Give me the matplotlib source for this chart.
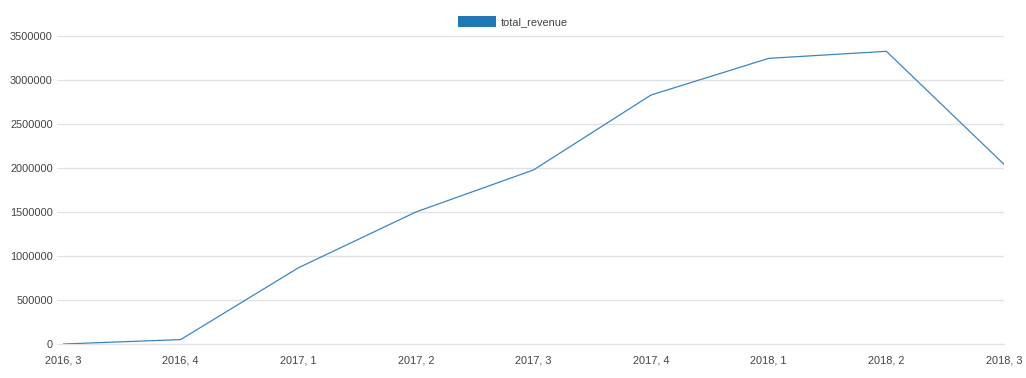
import matplotlib.pyplot as plt
from matplotlib.patches import Patch

# Data
quarters = ['2016, 3', '2016, 4', '2017, 1', '2017, 2', '2017, 3',
            '2017, 4', '2018, 1', '2018, 2', '2018, 3']
total_revenue = [0, 50000, 865000, 1500000, 1978000,
                 2830000, 3246000, 3326000, 2042000]
y_ticks = [0, 500000, 1000000, 1500000, 2000000, 2500000, 3000000, 3500000]

plt.rcParams['font.family'] = ['Liberation Sans', 'DejaVu Sans']
grid_color = '#e2e2e6'
text_color = '#444444'
fs = 7.9

fig = plt.figure(figsize=(10.26, 3.78), dpi=100)
ax = fig.add_axes([63 / 1026, 34 / 378, (1004 - 63) / 1026, (344 - 36) / 378])

x = range(len(quarters))
ax.plot(x, total_revenue, color='#3a87c0', linewidth=0.9)

ax.set_xlim(0, len(quarters) - 1)
ax.set_ylim(0, 3500000)
ax.set_xticks(list(x))
ax.set_xticklabels(quarters)
ax.set_yticks(y_ticks)
ax.set_yticklabels([str(v) for v in y_ticks])

ax.grid(axis='y', color=grid_color, linewidth=1)
ax.set_axisbelow(True)
for side in ['top', 'right', 'left']:
    ax.spines[side].set_visible(False)
ax.spines['bottom'].set_color(grid_color)
ax.tick_params(axis='y', length=4.3, color=grid_color, labelsize=fs,
               labelcolor=text_color, pad=3)
ax.tick_params(axis='x', length=0, labelsize=fs, labelcolor=text_color, pad=8)

fig.legend(handles=[Patch(facecolor='#1f77b4', edgecolor='none')],
           labels=['total_revenue'], loc='center', bbox_to_anchor=(0.5, 0.943),
           frameon=False, fontsize=fs, labelcolor=text_color,
           handlelength=3.4, handleheight=1.1, handletextpad=0.45)

fig.savefig('out.png', dpi=100)
